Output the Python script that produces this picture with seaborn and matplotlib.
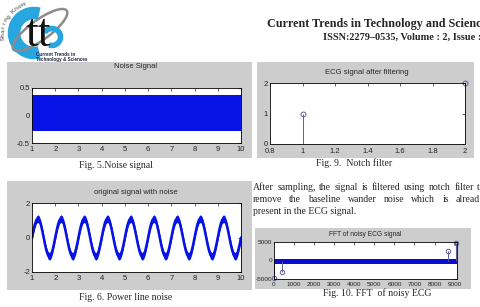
import numpy as np
import pandas as pd
import matplotlib
matplotlib.use("Agg")
import matplotlib.pyplot as plt
from matplotlib.patches import Rectangle, Arc, Ellipse
import seaborn as sns

W, H = 481, 307

# Fig. 5 - noise signal, drawn as its filled band
noise_t = [1, 10]
noise_top = [0.38, 0.38]
noise_bottom = [-0.28, -0.28]

# Fig. 6 - signal with power line noise, centre line every 1/16 s
sine_vals = [
    0.0, 0.42, 0.78, 1.02, 1.1, 1.02, 0.78, 0.42, 0.0, -0.42, -0.78, -1.02, -1.1, -1.02, -0.78, -0.42,
    0.0, 0.42, 0.78, 1.02, 1.1, 1.02, 0.78, 0.42, 0.0, -0.42, -0.78, -1.02, -1.1, -1.02, -0.78, -0.42,
    0.0, 0.42, 0.78, 1.02, 1.1, 1.02, 0.78, 0.42, 0.0, -0.42, -0.78, -1.02, -1.1, -1.02, -0.78, -0.42,
    0.0, 0.42, 0.78, 1.02, 1.1, 1.02, 0.78, 0.42, 0.0, -0.42, -0.78, -1.02, -1.1, -1.02, -0.78, -0.42,
    0.0, 0.42, 0.78, 1.02, 1.1, 1.02, 0.78, 0.42, 0.0, -0.42, -0.78, -1.02, -1.1, -1.02, -0.78, -0.42,
    0.0, 0.42, 0.78, 1.02, 1.1, 1.02, 0.78, 0.42, 0.0, -0.42, -0.78, -1.02, -1.1, -1.02, -0.78, -0.42,
    0.0, 0.42, 0.78, 1.02, 1.1, 1.02, 0.78, 0.42, 0.0, -0.42, -0.78, -1.02, -1.1, -1.02, -0.78, -0.42,
    0.0, 0.42, 0.78, 1.02, 1.1, 1.02, 0.78, 0.42, 0.0, -0.42, -0.78, -1.02, -1.1, -1.02, -0.78, -0.42,
    0.0, 0.42, 0.78, 1.02, 1.1, 1.02, 0.78, 0.42, 0.0, -0.42, -0.78, -1.02, -1.1, -1.02, -0.78, -0.42,
    0.0,
]
sine_t = np.arange(len(sine_vals)) / 16 + 1
noise_half = 0.22

# Fig. 9 - ECG signal after notch filtering
notch_x = [1, 2]
notch_y = [1, 2]

# Fig. 10 - FFT of noisy ECG
fft_bins = [0, 400, 8650, 9080]
fft_vals = [-4800, -3000, 2700, 4800]
fft_span = [0, 9100]
fft_zero = [0, 0]

# tick labels
t_ticks = list(range(1, 11))
notch_xticks = [0.8, 1, 1.2, 1.4, 1.6, 1.8, 2]
notch_xlabels = ["0.8", "1", "1.2", "1.4", "1.6", "1.8", "2"]
fft_xticks = list(range(0, 10000, 1000))

header = "Current Trends in Technology and Scienc"
issn = "ISSN:2279\u20130535, Volume : 2, Issue :"
para = ["After sampling, the signal is filtered using notch filter t",
        "remove the baseline wander noise which is alread",
        "present in the ECG signal."]

sns.set_style("white")
plt.rcParams['font.family'] = ['Liberation Sans', 'DejaVu Sans']

PANEL = '#cdcdcd'
BLUE = '#0612e6'
STEM = '#5d5d9a'
LOGO_BLUE = '#27a6df'
SERIF = ['Liberation Serif', 'DejaVu Serif']

fig = plt.figure(figsize=(W / 100, H / 100), dpi=100)
renderer = fig.canvas.get_renderer()


def px_axes(x0, y0, x1, y1):
    return fig.add_axes([x0 / W, 1 - y1 / H, (x1 - x0) / W, (y1 - y0) / H])


def frame(x0, y0, x1, y1):
    fig.patches.append(Rectangle((x0 / W, 1 - y1 / H), (x1 - x0) / W, (y1 - y0) / H,
                                 transform=fig.transFigure, facecolor=PANEL,
                                 edgecolor='none', zorder=-5))


def ftext(x, y, s, **kw):
    return fig.text(x / W, 1 - y / H, s, **kw)


def justify(y, line, x0, x1, **kw):
    words = line.split()
    texts = [ftext(x0, y, w, ha='left', va='center', **kw) for w in words]
    widths = [t.get_window_extent(renderer).width for t in texts]
    gap = (x1 - x0 - sum(widths)) / (len(words) - 1)
    x = x0
    for t, w in zip(texts, widths):
        t.set_x(x / W)
        x += w + gap


def matlab_axes(ax, xt, xl, yt, yl, size=5.5, xpad=2):
    ax.set_xticks(xt)
    ax.set_xticklabels(xl)
    ax.set_yticks(yt)
    ax.set_yticklabels(yl)
    ax.tick_params(direction='in', length=2.5, width=0.5, top=True, right=True,
                   labelsize=size, pad=1.5, labelcolor='#222222')
    ax.tick_params(axis='x', pad=xpad)
    for s in ax.spines.values():
        s.set_visible(True)
        s.set_linewidth(0.6)
        s.set_color('black')
    ax.set_facecolor('white')
    ax.set_xlabel('')
    ax.set_ylabel('')


# panels (grey matlab figure backgrounds)
frame(7, 62, 252, 158)
frame(7, 181, 252, 290)
frame(257, 62, 474, 158)
frame(255, 228, 471, 289)

# Fig. 5 noise signal
ax1 = px_axes(32, 88, 241, 143)
ax1.fill_between(noise_t, noise_bottom, noise_top, color=BLUE, lw=0)
ax1.set_xlim(1, 10)
ax1.set_ylim(-0.5, 0.5)
matlab_axes(ax1, t_ticks, [str(t) for t in t_ticks], [-0.5, 0, 0.5], ['-0.5', '0', '0.5'])
ftext(136, 66, "Noise Signal", ha='center', va='center', fontsize=5.5)
ftext(116, 165, "Fig. 5.Noise signal", ha='center', va='center', fontsize=7, family=SERIF)

# Fig. 6 original signal with noise
ax2 = px_axes(32, 203, 241, 272)
sig = pd.DataFrame({'t': sine_t, 'v': sine_vals})
ax2.fill_between(sig['t'], sig['v'] - noise_half, sig['v'] + noise_half, color=BLUE, lw=0)
sns.lineplot(data=sig, x='t', y='v', ax=ax2, color=BLUE, lw=1.8)
ax2.set_xlim(1, 10)
ax2.set_ylim(-2, 2)
matlab_axes(ax2, t_ticks, [str(t) for t in t_ticks], [-2, 0, 2], ['-2', '0', '2'])
ftext(136, 192, "original signal with noise", ha='center', va='center', fontsize=5.5)
ftext(126, 297, "Fig. 6. Power line noise", ha='center', va='center', fontsize=7, family=SERIF)

# Fig. 9 ECG after filtering
ax3 = px_axes(270, 83, 465, 144)
ax3.vlines(notch_x, 0, notch_y, color=STEM, lw=0.7)
ax3.plot(notch_x, notch_y, 'o', mfc='none', mec=STEM, ms=3.5, mew=0.7, clip_on=False)
ax3.set_xlim(0.8, 2)
ax3.set_ylim(0, 2)
matlab_axes(ax3, notch_xticks, notch_xlabels, [0, 1, 2], ['0', '1', '2'], xpad=3.2)
ftext(367, 73, "ECG signal after filtering", ha='center', va='center', fontsize=5.5)
ftext(354, 163, "Fig. 9.  Notch filter", ha='center', va='center', fontsize=7, family=SERIF)

# paragraph (justified like the page, last line ragged)
justify(188, para[0], 253, 480, fontsize=7, family=SERIF)
justify(200, para[1], 253, 480, fontsize=7, family=SERIF)
ftext(253, 212, para[2], ha='left', va='center', fontsize=7, family=SERIF)

# Fig. 10 FFT of noisy ECG
ax4 = px_axes(274, 242, 457, 279)
fft_df = pd.DataFrame({'bin': fft_span, 'val': fft_zero})
sns.lineplot(data=fft_df, x='bin', y='val', ax=ax4, color='#0a0ad0', lw=3.6)
ax4.vlines(fft_bins, 0, fft_vals, color=STEM, lw=0.7)
ax4.plot(fft_bins, fft_vals, 'o', mfc='none', mec=STEM, ms=3.2, mew=0.7, clip_on=False)
ax4.set_xlim(0, 9120)
ax4.set_ylim(-5000, 5000)
matlab_axes(ax4, fft_xticks, [str(t) for t in fft_xticks], [-5000, 0, 5000],
            ['-5000', '0', '5000'], size=4.6)
ftext(365, 235, "FFT of noisy ECG signal", ha='center', va='center', fontsize=4.8)
ftext(377, 293, "Fig. 10. FFT  of noisy ECG", ha='center', va='center', fontsize=7, family=SERIF)

# header
ftext(267, 24, header, ha='left', va='center', fontsize=8.7, weight='bold', family=SERIF)
ftext(323, 37, issn, ha='left', va='center', fontsize=7.4, weight='bold', family=SERIF)

# logo
lax = px_axes(0, 0, 100, 66)
lax.set_xlim(0, 100)
lax.set_ylim(66, 0)
lax.axis('off')
lax.add_patch(Arc((34, 33), 40, 40, theta1=75, theta2=285, color=LOGO_BLUE, lw=9))
lax.add_patch(Ellipse((40, 30), 66, 20, angle=-36, fill=False, ec='#8c8c8c', lw=1.8))
lax.add_patch(Arc((52, 37), 17, 17, theta1=-150, theta2=110, color=LOGO_BLUE, lw=4))
lax.text(38, 35, "tt", fontsize=33, family=SERIF, ha='center', va='center', color='#111111')
lax.text(36, 54.5, "Current Trends in", fontsize=3.3, weight='bold', color='#222244', va='center')
lax.text(36, 59, "Technology & Sciences", fontsize=3.3, weight='bold', color='#222244',
         va='center')
for k, ch in enumerate("Sharing Know"):
    a = np.deg2rad(188 - 7 * k)
    lax.text(34 + 31 * np.cos(a), 34 - 31 * np.sin(a), ch, fontsize=4.6, weight='bold',
             color='#7a7a7a', ha='center', va='center', rotation=np.rad2deg(a) - 90)

fig.savefig("out.png", dpi=100, facecolor='white')
